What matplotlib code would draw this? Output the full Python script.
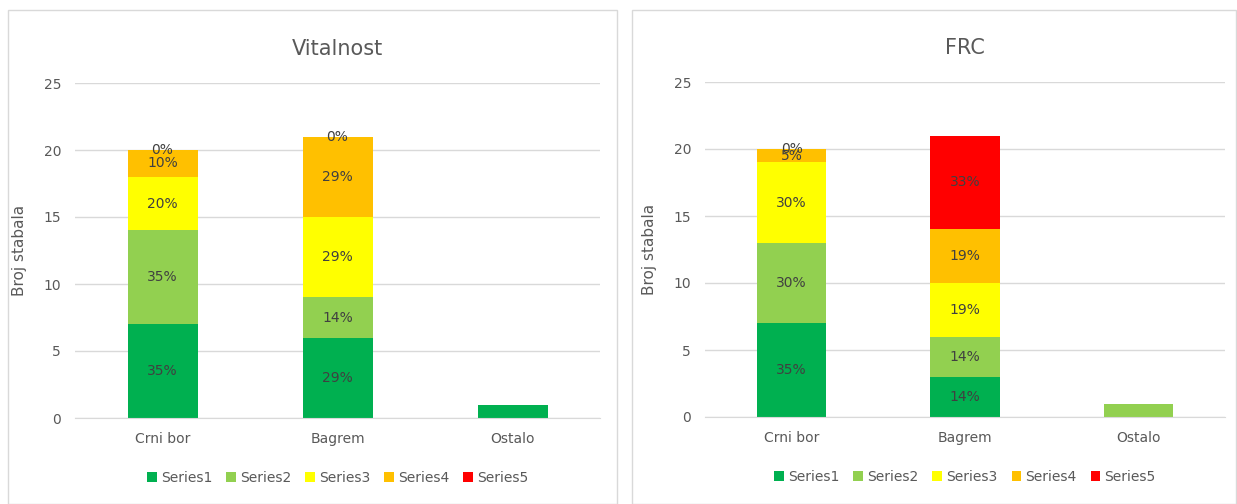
import matplotlib.pyplot as plt
from matplotlib.patches import Rectangle

categories = ["Crni bor", "Bagrem", "Ostalo"]
series_names = ["Series1", "Series2", "Series3", "Series4", "Series5"]
colors = ["#00B050", "#92D050", "#FFFF00", "#FFC000", "#FF0000"]

# values per series, one entry per category
vital = [[7, 6, 1], [7, 3, 0], [4, 6, 0], [2, 6, 0], [0, 0, 0]]
vital_labels = [["35%", "29%", None], ["35%", "14%", None], ["20%", "29%", None],
                ["10%", "29%", None], ["0%", "0%", None]]
frc = [[7, 3, 0], [6, 3, 1], [6, 4, 0], [1, 4, 0], [0, 7, 0]]
frc_labels = [["35%", "14%", None], ["30%", "14%", None], ["30%", "19%", None],
              ["5%", "19%", None], ["0%", "33%", None]]

fig = plt.figure(figsize=(12.37, 5.04), dpi=100)
txt = "#595959"

# panel borders
for x0, w in [(8, 609), (632, 604)]:
    fig.patches.append(Rectangle((x0 / 1237, 0), w / 1237, 494 / 504, transform=fig.transFigure,
                                 fill=False, edgecolor="#D9D9D9", lw=1))


def draw(ax, data, labels, title):
    bottom = [0, 0, 0]
    x = range(len(categories))
    for i, vals in enumerate(data):
        ax.bar(x, vals, 0.4, bottom=bottom, color=colors[i], label=series_names[i], zorder=2)
        for j, v in enumerate(vals):
            lab = labels[i][j]
            if lab is not None:
                ax.text(j, bottom[j] + v / 2, lab, ha="center", va="center", fontsize=10,
                        color="#404040", zorder=3, family="Liberation Sans Narrow")
        bottom = [b + v for b, v in zip(bottom, vals)]
    ax.set_ylim(0, 25)
    ax.set_xlim(-0.5, 2.5)
    ax.set_yticks(range(0, 26, 5))
    ax.grid(axis="y", color="#D9D9D9", lw=1, zorder=0)
    for s in ["top", "right", "left"]:
        ax.spines[s].set_visible(False)
    ax.spines["bottom"].set_color("#D9D9D9")
    ax.tick_params(length=0, colors=txt, labelsize=10, pad=10)
    ax.set_xticks(list(x), categories)
    ax.set_ylabel("Broj stabala", color=txt, fontsize=11, labelpad=12)
    ax.set_title(title, color=txt, fontsize=15, pad=20)
    ax.legend(loc="upper center", bbox_to_anchor=(0.5, -0.12), ncol=5, frameon=False,
              fontsize=10, handlelength=0.7, handleheight=0.7, columnspacing=1.0,
              handletextpad=0.3, labelcolor=txt)


ax1 = fig.add_axes([75 / 1237, 86 / 504, 525 / 1237, 335 / 504])
draw(ax1, vital, vital_labels, "Vitalnost")
ax2 = fig.add_axes([705 / 1237, 87 / 504, 520 / 1237, 335 / 504])
draw(ax2, frc, frc_labels, "FRC")

fig.savefig("out.png", dpi=100)
